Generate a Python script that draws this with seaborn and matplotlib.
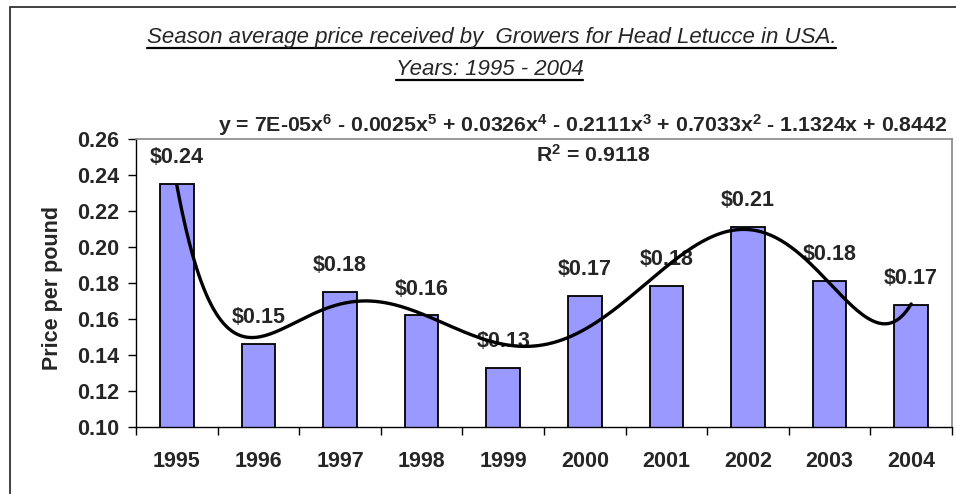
import matplotlib
matplotlib.use("Agg")
import matplotlib.pyplot as plt
import matplotlib.patches as mpatches
import matplotlib.lines as mlines
import numpy as np
import pandas as pd
import seaborn as sns

# data
years = ["1995", "1996", "1997", "1998", "1999", "2000", "2001", "2002", "2003", "2004"]
prices = [0.2352, 0.146, 0.1752, 0.162, 0.133, 0.173, 0.1785, 0.211, 0.181, 0.168]
title_lines = ["Season average price received by  Growers for Head Letucce in USA.",
               "Years: 1995 - 2004"]
equation = ("y = 7E-05x$^6$ - 0.0025x$^5$ + 0.0326x$^4$ - 0.2111x$^3$ "
            "+ 0.7033x$^2$ - 1.1324x + 0.8442")
r2_text = "R$^2$ = 0.9118"

sns.set_style("ticks")
plt.rcParams["font.family"] = ["Liberation Sans", "DejaVu Sans"]
plt.rcParams["mathtext.fontset"] = "custom"
plt.rcParams["mathtext.rm"] = "Liberation Sans:bold"
plt.rcParams["mathtext.default"] = "rm"

df = pd.DataFrame({"year": years, "price": prices})

fig = plt.figure(figsize=(9.56, 4.94), dpi=100)
ax = fig.add_axes([136 / 956, 1 - 427 / 494, 816 / 956, 288 / 494])

sns.barplot(data=df, x="year", y="price", ax=ax, color="#9999FF",
            saturation=1, width=0.41, edgecolor="black", linewidth=1.3)

# polynomial (order 6) trendline like excel
xs = np.arange(1, len(prices) + 1)
coef = np.polyfit(xs, prices, 6)
xx = np.linspace(1, len(prices), 300)
ax.plot(xx - 1, np.polyval(coef, xx), color="black", lw=2.4, zorder=5)

# data labels
for i, v in enumerate(prices):
    ax.annotate(f"${v:.2f}", (i, v), xytext=(0, 19), textcoords="offset points",
                ha="center", va="center", fontsize=15.5, fontweight="bold")

ax.set_ylim(0.10, 0.26)
ax.set_xlim(-0.5, len(years) - 0.5)
ax.set_yticks(np.arange(0.10, 0.261, 0.02))
ax.yaxis.set_major_formatter(matplotlib.ticker.FormatStrFormatter("%.2f"))
ax.set_xticks(np.arange(-0.5, len(years), 1), minor=True)
ax.tick_params(axis="x", which="major", length=0, pad=17, labelsize=15.5)
ax.tick_params(axis="x", which="minor", length=6, width=1, direction="out", color="black")
ax.tick_params(axis="y", length=6, width=1, direction="out", pad=6, labelsize=15.5, color="black")
for lab in ax.get_xticklabels() + ax.get_yticklabels():
    lab.set_fontweight("bold")

ax.set_xlabel("")
ax.set_ylabel("Price per pound", fontsize=15.5, fontweight="bold")
ax.yaxis.set_label_coords(-0.09, 0.483)

for s in ["left", "bottom"]:
    ax.spines[s].set_color("black")
    ax.spines[s].set_linewidth(1)
for s in ["top", "right"]:
    ax.spines[s].set_visible(True)
    ax.spines[s].set_color("#888888")
    ax.spines[s].set_linewidth(1.2)

ax.text(0.547, 1.049, equation, transform=ax.transAxes, ha="center", va="center",
        fontsize=15.3, fontweight="bold")
ax.text(0.56, 0.944, r2_text, transform=ax.transAxes, ha="center", va="center",
        fontsize=15.3, fontweight="bold")

# title, italic and underlined
t1 = fig.text(0.514, 1 - 42.7 / 494, title_lines[0], ha="center", va="baseline",
              fontsize=16, style="italic")
t2 = fig.text(0.512, 1 - 75 / 494, title_lines[1], ha="center", va="baseline",
              fontsize=16, style="italic")
fig.canvas.draw()
inv = fig.transFigure.inverted()
for t, uy in [(t1, 48), (t2, 80)]:
    bb = t.get_window_extent().transformed(inv)
    y = 1 - uy / 494
    fig.add_artist(mlines.Line2D([bb.x0, bb.x1], [y, y], color="black", lw=1.6,
                                 transform=fig.transFigure))

# chart area frame (runs off the right and bottom edges)
fig.add_artist(mpatches.Rectangle((10 / 956, -0.2), 1.2, 1.2 - 7 / 494,
                                  transform=fig.transFigure, fill=False,
                                  edgecolor="#333333", lw=1.3))

fig.savefig("out.png", dpi=100)
